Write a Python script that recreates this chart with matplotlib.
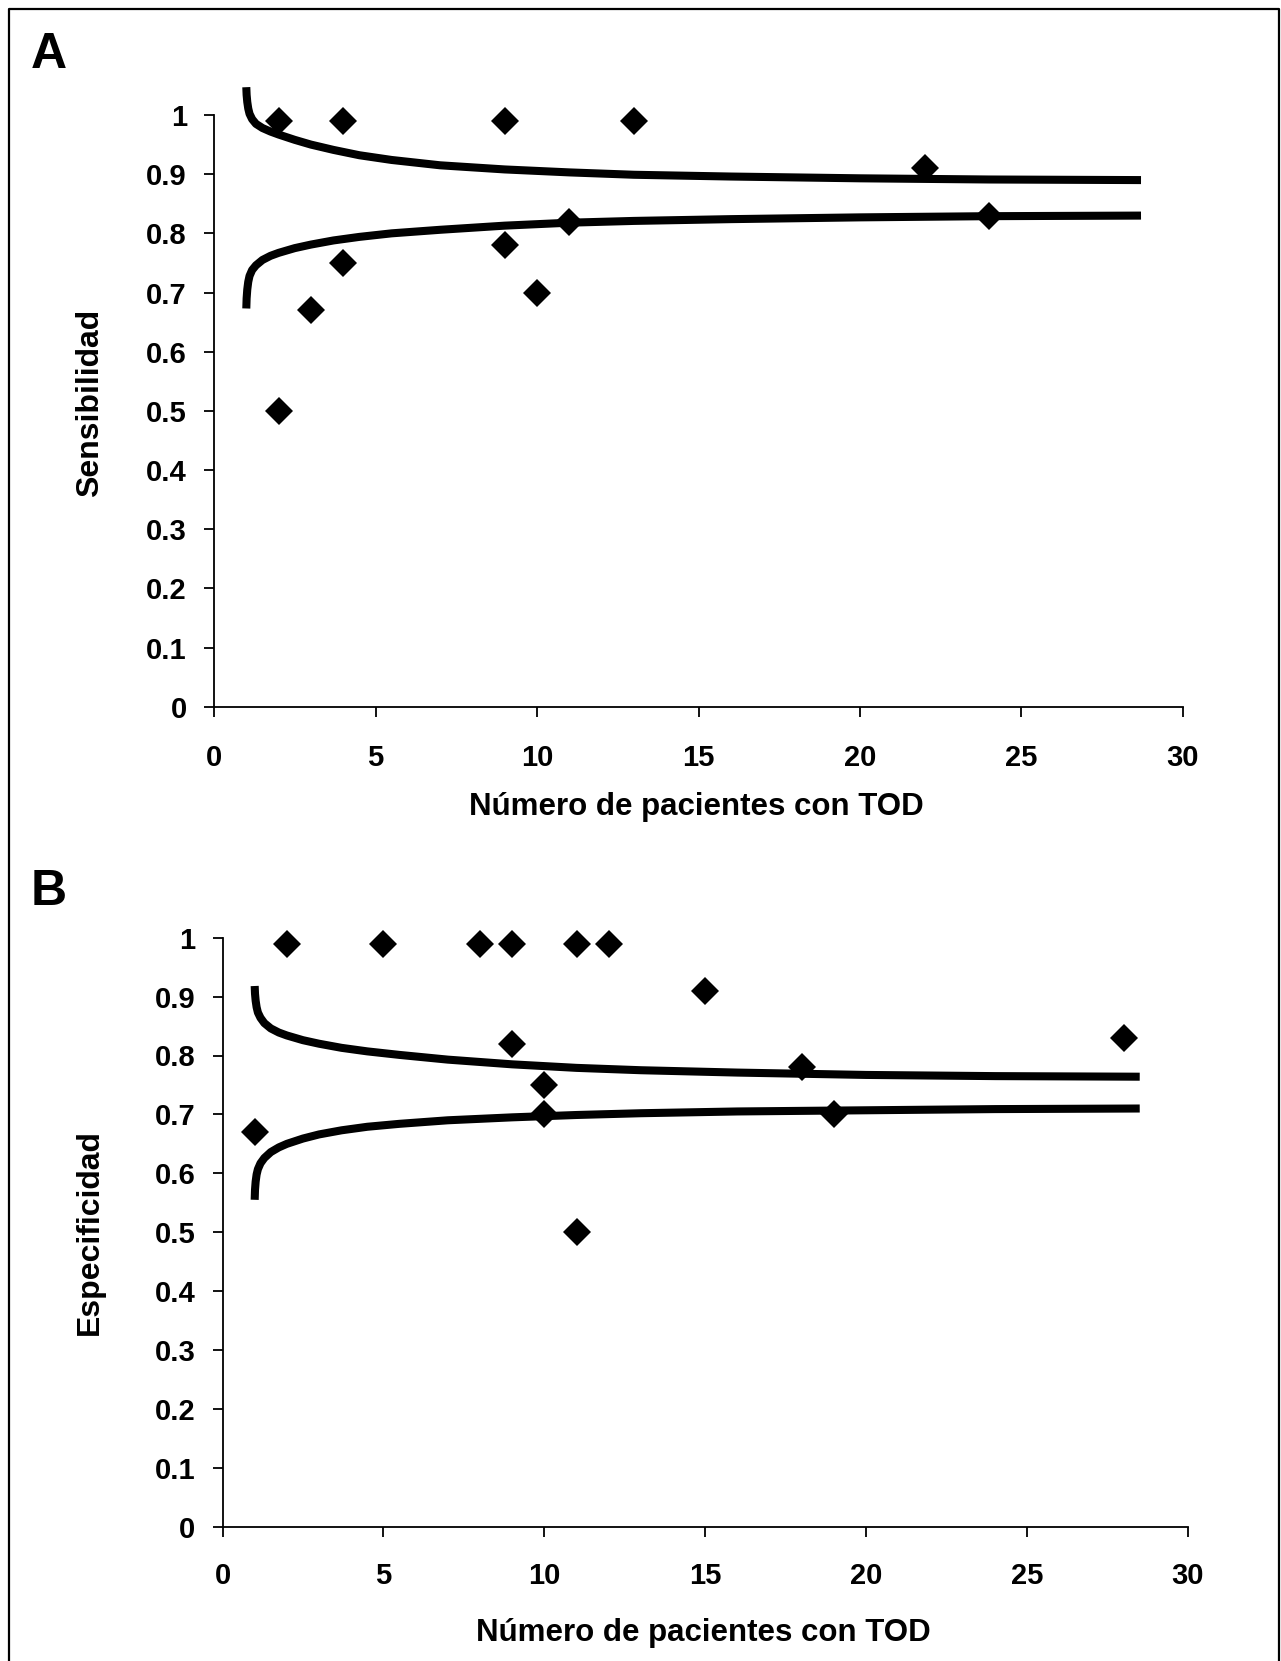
import matplotlib
matplotlib.use("Agg")
import matplotlib.pyplot as plt
from matplotlib.lines import Line2D

plt.rcParams['font.family'] = ['Liberation Sans', 'DejaVu Sans']
plt.rcParams['font.weight'] = 'bold'

W, H = 1281, 1661

# A: sensibilidad por estudio
sens_n = [2, 4, 9, 13, 22, 24, 11, 9, 4, 10, 3, 2]
sens_v = [0.99, 0.99, 0.99, 0.99, 0.91, 0.83, 0.82, 0.78, 0.75, 0.70, 0.67, 0.50]
sens_up_n = [1.0, 1.01, 1.03, 1.06, 1.1, 1.18, 1.3, 1.5, 1.75, 2.0, 2.5, 3.0, 3.7,
             4.5, 5.5, 7.0, 9.0, 11.0, 13.0, 16.0, 20.0, 24.0, 28.7]
sens_up_v = [1.047, 1.034, 1.022, 1.011, 1.002, 0.993, 0.985, 0.978, 0.972, 0.967,
             0.958, 0.950, 0.941, 0.932, 0.924, 0.915, 0.908, 0.903, 0.899, 0.896,
             0.893, 0.891, 0.890]
sens_lo_n = [1.0, 1.01, 1.03, 1.06, 1.1, 1.18, 1.3, 1.5, 1.75, 2.0, 2.5, 3.0, 3.7,
             4.5, 5.5, 7.0, 9.0, 11.0, 13.0, 16.0, 20.0, 24.0, 28.7]
sens_lo_v = [0.673, 0.690, 0.705, 0.718, 0.728, 0.738, 0.746, 0.755, 0.762, 0.767,
             0.775, 0.781, 0.788, 0.794, 0.800, 0.806, 0.813, 0.818, 0.821, 0.824,
             0.827, 0.829, 0.830]

# B: especificidad por estudio
esp_n = [2, 5, 8, 9, 11, 12, 15, 9, 10, 10, 1, 11, 18, 19, 28]
esp_v = [0.99, 0.99, 0.99, 0.99, 0.99, 0.99, 0.91, 0.82, 0.75, 0.70, 0.67, 0.50, 0.78, 0.70, 0.83]
esp_up_n = [1.0, 1.01, 1.03, 1.06, 1.1, 1.18, 1.3, 1.5, 1.75, 2.0, 2.5, 3.0, 3.7,
            4.5, 5.5, 7.0, 9.0, 11.0, 13.0, 16.0, 20.0, 24.0, 28.5]
esp_up_v = [0.918, 0.905, 0.893, 0.882, 0.873, 0.864, 0.855, 0.846, 0.839, 0.834,
            0.826, 0.820, 0.813, 0.807, 0.801, 0.793, 0.785, 0.779, 0.775, 0.771,
            0.767, 0.765, 0.764]
esp_lo_n = [1.0, 1.01, 1.03, 1.06, 1.1, 1.18, 1.3, 1.5, 1.75, 2.0, 2.5, 3.0, 3.7,
            4.5, 5.5, 7.0, 9.0, 11.0, 13.0, 16.0, 20.0, 24.0, 28.5]
esp_lo_v = [0.555, 0.572, 0.586, 0.598, 0.607, 0.617, 0.626, 0.636, 0.644, 0.650,
            0.659, 0.666, 0.673, 0.679, 0.684, 0.690, 0.695, 0.699, 0.702, 0.705,
            0.707, 0.709, 0.710]

x_ticks = [0, 5, 10, 15, 20, 25, 30]
y_ticks = [0, 0.1, 0.2, 0.3, 0.4, 0.5, 0.6, 0.7, 0.8, 0.9, 1]
y_labels = ['0', '0.1', '0.2', '0.3', '0.4', '0.5', '0.6', '0.7', '0.8', '0.9', '1']

xlabel = 'Número de pacientes con TOD'


def px_rect(l, t, r, b):
    return [l / W, 1 - b / H, (r - l) / W, (b - t) / H]


def panel(fig, rect, pts_n, pts_v, up_n, up_v, lo_n, lo_v, ylabel, letter,
          letter_xy, ylab_y, xlab_y, xlab_x, xpad):
    ax = fig.add_axes(px_rect(*rect))
    for cn, cv in [(up_n, up_v), (lo_n, lo_v)]:
        ax.plot(cn, cv, color='black', lw=5.8, clip_on=False,
                solid_capstyle='butt', solid_joinstyle='round', zorder=2)
    ax.plot(pts_n, pts_v, linestyle='none', marker='D', ms=14, mew=0,
            color='black', clip_on=False, zorder=3)
    ax.set_xlim(0, 30)
    ax.set_ylim(0, 1)
    ax.set_xticks(x_ticks)
    ax.set_yticks(y_ticks)
    ax.set_yticklabels(y_labels)
    for s in ['top', 'right']:
        ax.spines[s].set_visible(False)
    for s in ['left', 'bottom']:
        ax.spines[s].set_linewidth(1.3)
    ax.tick_params(direction='out', length=7.5, width=1.3, labelsize=21)
    ax.tick_params(axis='y', pad=12)
    ax.tick_params(axis='x', pad=xpad)

    fig.text(xlab_x / W, 1 - xlab_y / H, xlabel, ha='center', va='baseline',
             fontsize=22.5, fontweight='bold')
    fig.text(97.7 / W, 1 - ylab_y / H, ylabel, rotation=90, rotation_mode='anchor',
             ha='center', va='baseline', fontsize=23, fontweight='bold')
    fig.text(letter_xy[0] / W, 1 - letter_xy[1] / H, letter, ha='left',
             va='baseline', fontsize=36, fontweight='bold')
    return ax


fig = plt.figure(figsize=(W / 100, H / 100), dpi=100)

panel(fig, (214, 115, 1183, 706.7), sens_n, sens_v, sens_up_n, sens_up_v,
      sens_lo_n, sens_lo_v, 'Sensibilidad', 'A', (31, 68.3), 403, 815, 696, 19)
panel(fig, (222.5, 937.7, 1188, 1526.7), esp_n, esp_v, esp_up_n, esp_up_v,
      esp_lo_n, esp_lo_v, 'Especificidad', 'B', (31, 905), 1232, 1641, 703, 18)

# marco exterior
bx = [9 / W, 9 / W, 1279 / W, 1279 / W]
by = [0, 1 - 9 / H, 1 - 9 / H, 0]
fig.add_artist(Line2D(bx, by, color='black', lw=1.6, transform=fig.transFigure))

fig.savefig('out.png', dpi=100)
